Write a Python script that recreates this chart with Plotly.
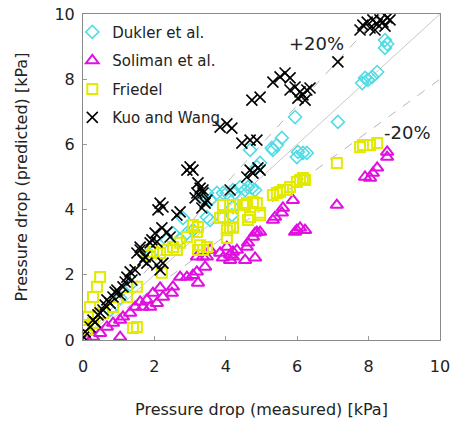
import plotly.graph_objects as go

# Measured vs predicted two-phase pressure drop [kPa]
dukler_x = [8.46, 8.46, 8.52, 7.82, 7.98, 8.10, 8.24, 7.90, 7.14, 5.94, 5.57, 5.43, 5.29,
            6.02, 6.16, 5.99, 6.27, 4.68, 4.96, 4.87, 4.62, 4.82, 4.54, 4.73, 3.92, 4.20,
            4.20, 4.40, 5.32, 3.47, 3.36, 3.56, 3.75, 4.03, 4.26, 3.08, 2.91, 3.47, 3.56,
            4.17, 2.80, 2.72, 2.52, 2.35, 1.88, 1.32, 0.76, 0.34, 1.04]
dukler_y = [9.20, 8.96, 9.08, 7.88, 7.98, 8.07, 8.22, 8.04, 6.69, 6.84, 6.20, 5.98, 5.89,
            5.77, 5.74, 5.61, 5.74, 5.83, 5.43, 5.31, 4.69, 4.60, 4.60, 4.66, 4.51, 4.08,
            4.60, 4.69, 5.83, 4.51, 4.36, 4.29, 4.51, 4.51, 4.51, 3.37, 3.28, 3.77, 3.68,
            3.83, 3.74, 3.07, 3.28, 3.07, 2.61, 1.69, 0.92, 0.37, 1.29]

soliman_x = [8.52, 8.52, 7.90, 8.12, 8.24, 8.04, 7.11, 5.88, 5.60, 5.57, 5.38, 5.32, 6.08,
             5.94, 6.22, 5.99, 4.96, 4.82, 4.62, 4.20, 4.12, 4.54, 4.82, 4.03, 4.12, 4.31,
             3.92, 4.59, 4.76, 4.87, 3.36, 3.42, 3.19, 3.22, 2.72, 2.91, 3.08, 2.52, 2.16,
             1.96, 2.24, 1.79, 1.60, 1.46, 1.32, 1.04, 0.84, 0.67, 0.48, 0.28, 0.11, 3.56,
             3.47, 3.84, 4.20, 3.19, 2.49, 2.07, 1.88, 1.68, 1.12, 1.04]
soliman_y = [5.77, 5.61, 5.00, 5.12, 5.28, 4.97, 4.14, 4.29, 4.05, 3.90, 3.77, 3.68, 3.44,
             3.31, 3.37, 3.37, 3.31, 3.28, 2.98, 2.70, 2.45, 2.45, 2.52, 2.85, 2.61, 2.76,
             2.52, 2.85, 3.16, 3.31, 2.55, 2.24, 2.09, 1.75, 1.93, 1.93, 1.99, 1.63, 1.60,
             1.44, 1.32, 1.23, 1.17, 1.01, 0.83, 0.61, 0.52, 0.40, 0.21, 0.09, 0.02, 2.76,
             2.55, 2.67, 2.55, 2.55, 1.44, 1.13, 1.01, 1.01, 0.71, 0.09]

friedel_x = [7.84, 8.04, 8.24, 7.76, 7.11, 6.16, 5.99, 5.80, 5.60, 5.43, 5.32, 6.08, 6.22,
             4.87, 4.59, 4.76, 4.54, 5.52, 5.71, 4.20, 4.20, 4.68, 4.62, 4.96, 3.92, 4.12,
             3.84, 4.12, 4.48, 4.96, 3.08, 3.22, 3.19, 3.28, 3.22, 2.91, 2.72, 2.52, 2.35,
             2.16, 1.96, 1.79, 3.47, 3.36, 3.92, 4.03, 4.20, 4.03, 2.63, 2.21, 1.51, 1.23,
             0.84, 0.56, 0.28, 0.11, 0.48, 0.39, 0.28, 0.20, 0.14, 0.06, 1.40, 1.51]
friedel_y = [5.98, 5.98, 6.04, 5.92, 5.43, 4.97, 4.85, 4.69, 4.60, 4.51, 4.45, 4.91, 4.91,
             4.20, 4.20, 4.23, 4.14, 4.54, 4.60, 3.77, 3.47, 3.77, 3.68, 3.83, 4.14, 4.14,
             3.74, 3.44, 4.14, 3.90, 3.53, 3.47, 3.31, 2.91, 2.76, 3.16, 2.98, 2.85, 2.76,
             2.67, 2.70, 2.61, 2.85, 2.76, 3.77, 3.37, 3.44, 3.13, 2.76, 2.06, 1.63, 1.32,
             1.01, 0.83, 0.52, 0.31, 1.93, 1.63, 1.32, 1.01, 0.71, 0.46, 0.37, 0.40]

kuo_x = [7.76, 7.84, 7.96, 8.04, 8.12, 8.24, 8.32, 8.40, 8.52, 8.60, 8.18, 8.46, 7.14,
         5.80, 5.94, 6.08, 6.16, 6.27, 6.02, 6.22, 6.36, 5.32, 5.52, 5.66, 5.80, 4.73,
         4.96, 3.84, 4.03, 4.17, 4.45, 4.68, 4.87, 4.68, 4.90, 4.76, 4.96, 4.59, 4.12,
         3.36, 3.00, 3.08, 2.91, 3.22, 3.28, 3.19, 3.36, 3.14, 3.42, 3.33, 3.47, 2.72,
         2.63, 2.16, 2.24, 2.10, 2.21, 2.35, 2.02, 2.44, 1.93, 2.07, 1.88, 1.60, 1.51,
         1.60, 1.68, 1.79, 2.07, 2.16, 2.24, 1.32, 1.23, 1.37, 1.12, 0.95, 1.04, 0.84,
         0.76, 0.56, 0.48, 0.28, 0.20, 0.06, 0.02, 0.34, 0.42, 0.62, 0.67, 0.90, 1.18,
         1.46, 1.74]
kuo_y = [9.51, 9.66, 9.75, 9.57, 9.82, 9.69, 9.82, 9.75, 9.88, 9.82, 9.51, 9.63, 8.53,
         7.67, 7.76, 7.61, 7.52, 7.67, 7.42, 7.36, 7.73, 7.91, 8.07, 8.19, 8.04, 7.36,
         7.45, 6.53, 6.63, 6.50, 6.04, 6.13, 6.13, 5.21, 5.28, 5.12, 5.21, 5.00, 4.60,
         4.60, 5.31, 5.21, 5.21, 4.82, 4.66, 4.51, 4.51, 4.36, 4.20, 4.05, 4.29, 3.93,
         3.83, 4.20, 4.08, 3.99, 3.44, 3.31, 3.28, 3.16, 3.07, 3.01, 2.98, 2.76, 2.67,
         2.85, 2.45, 2.36, 2.30, 2.15, 2.36, 2.09, 1.93, 1.84, 1.63, 1.53, 1.38, 1.32,
         1.13, 0.92, 0.83, 0.61, 0.40, 0.25, 0.09, 0.55, 0.77, 1.07, 1.23, 1.47, 1.78,
         2.15, 2.55]

# Agreement lines: exact, +20 % and -20 %
ref_x = [0, 10]
ratios = {"exact": 1.0, "plus20": 1.2, "minus20": 0.8}

FONT = "DejaVu Sans"

fig = go.Figure()

for key, r in ratios.items():
    fig.add_trace(go.Scatter(
        x=ref_x, y=[v * r for v in ref_x], mode="lines",
        line=dict(color="#d2c4c4" if key == "exact" else "#b8b8b8", width=1,
                  dash="solid" if key == "exact" else "dash"),
        showlegend=False, hoverinfo="skip"))

series = [
    ("Dukler et al.", dukler_x, dukler_y, "diamond-open", "#52dce4", 10, 1.6),
    ("Soliman et al.", soliman_x, soliman_y, "triangle-up-open", "#e010e0", 11, 2),
    ("Friedel", friedel_x, friedel_y, "square-open", "#e2ea00", 10, 2),
    ("Kuo and Wang", kuo_x, kuo_y, "x-thin-open", "#000000", 11, 1.6),
]
for i, (name, xs, ys, sym, col, sz, lw) in enumerate(series):
    fig.add_trace(go.Scatter(
        x=xs, y=ys, mode="markers", name=name, legendgroup=str(i),
        marker=dict(symbol=sym, color=col, size=sz, line=dict(color=col, width=lw))))

fig.add_annotation(x=6.55, y=9.1, text="+20%", showarrow=False,
                   font=dict(family=FONT, size=18, color="#222"))
fig.add_annotation(x=9.1, y=6.35, text="-20%", showarrow=False,
                   font=dict(family=FONT, size=18, color="#222"))

axis_common = dict(range=[0, 10], dtick=2, showgrid=False, zeroline=False,
                   showline=True, linecolor="#8a8a8a", linewidth=1, mirror=True,
                   ticks="inside", ticklen=4, tickcolor="#9a9a9a", automargin=False,
                   tickfont=dict(family=FONT, size=16, color="#222"))

fig.update_layout(
    width=452, height=423,
    margin=dict(l=83, r=12, t=14, b=83),
    paper_bgcolor="white", plot_bgcolor="white",
    font=dict(family=FONT, color="#222"),
    xaxis=dict(title=dict(text="Pressure drop (measured) [kPa]",
                          font=dict(family=FONT, size=16), standoff=28),
               ticklabelstandoff=12, **axis_common),
    yaxis=dict(title=dict(text="Pressure drop (predicted) [kPa]",
                          font=dict(family=FONT, size=16), standoff=22),
               ticklabelstandoff=4, **axis_common),
    legend=dict(x=-0.03, y=0.995, xanchor="left", yanchor="top",
                bgcolor="rgba(0,0,0,0)", font=dict(family=FONT, size=15),
                tracegroupgap=6, itemwidth=30),
    showlegend=True,
)

fig.write_html("out.html")
